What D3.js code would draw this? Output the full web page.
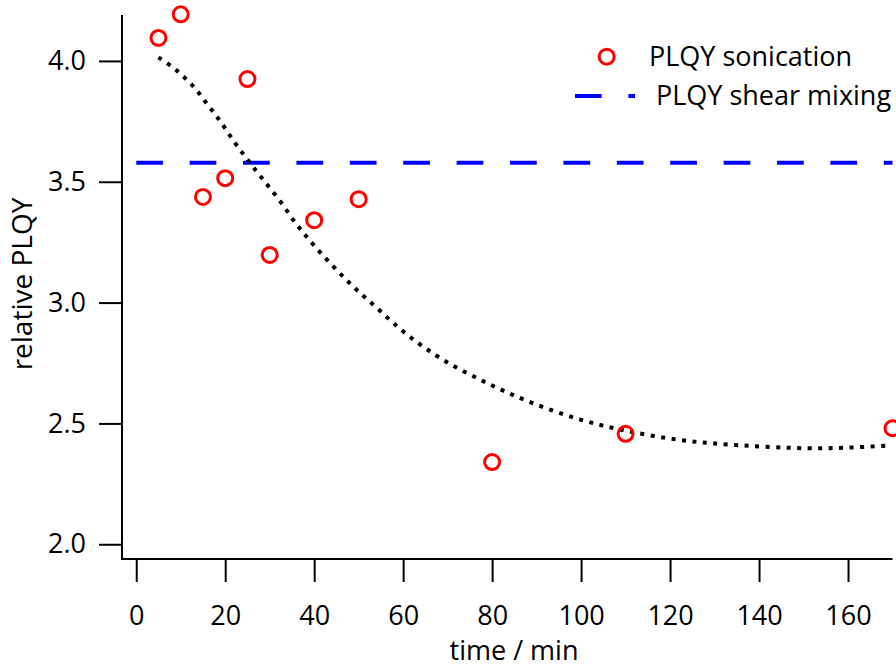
<!DOCTYPE html>
<html>
<head>
<meta charset="utf-8">
<script src="https://cdn.jsdelivr.net/npm/d3@7"></script>
<style>
  html, body { margin: 0; padding: 0; background: #fff; }
  svg { display: block; }
  text { font-family: "Open Sans", sans-serif; fill: #000; }
</style>
</head>
<body>
<svg id="chart" width="896" height="667"></svg>
<script>
// Measured PLQY after sonication (time in minutes)
const sonicationTime = [5, 10, 15, 20, 25, 30, 40, 50, 80, 110, 170];
const sonicationPLQY = [4.095, 4.193, 3.437, 3.515, 3.925, 3.197, 3.341, 3.428, 2.34, 2.457, 2.48];

// Reference level obtained with shear mixing
const shearPLQY = 3.579;
const shearSpan = [0, 170];

// Trend curve through the sonication data
const trendTime = [5, 9, 13, 16, 19, 22, 25, 28, 32, 36, 40, 47, 54, 61, 69, 79, 89, 100, 110, 122, 133, 151, 160, 169];
const trendPLQY = [4.015, 3.962, 3.891, 3.82, 3.748, 3.666, 3.592, 3.521, 3.428, 3.325, 3.236, 3.098, 2.979, 2.866, 2.763, 2.666, 2.585, 2.515, 2.470, 2.432, 2.413, 2.397, 2.400, 2.408];

const xTicks = [0, 20, 40, 60, 80, 100, 120, 140, 160];
const yTicks = [2.0, 2.5, 3.0, 3.5, 4.0];

const legendLabels = ["PLQY sonication", "PLQY shear mixing"];

const FONT = 27;
const svg = d3.select("#chart");

const x = d3.scaleLinear().domain([-3.2, 170]).range([122, 892.5]);
const y = d3.scaleLinear().domain([1.939, 4.19]).range([559, 15]);

// Axes
const xAxis = d3.axisBottom(x).tickValues(xTicks).tickSize(23).tickPadding(24)
  .tickFormat(d3.format("d"));
const yAxis = d3.axisLeft(y).tickValues(yTicks).tickSize(23).tickPadding(13)
  .tickFormat(d3.format(".1f"));

const gx = svg.append("g").attr("transform", "translate(0,559)").call(xAxis);
const gy = svg.append("g").attr("transform", "translate(122,0)").call(yAxis);
[gx, gy].forEach(g => {
  g.select(".domain").remove();
  g.selectAll(".tick line").attr("stroke", "#000").attr("stroke-width", 2);
  g.selectAll(".tick text").attr("font-size", FONT).attr("font-family", "Open Sans").attr("fill", "#000");
});

// Axis lines
svg.append("line").attr("x1", 122).attr("x2", 122).attr("y1", y.range()[1]).attr("y2", 560)
  .attr("stroke", "#000").attr("stroke-width", 2);
svg.append("line").attr("x1", 121).attr("x2", x.range()[1]).attr("y1", 559).attr("y2", 559)
  .attr("stroke", "#000").attr("stroke-width", 2);

// Axis titles
svg.append("text").attr("x", 514).attr("y", 660).attr("text-anchor", "middle")
  .attr("font-size", FONT).text("time / min");
svg.append("text").attr("transform", "translate(32,284) rotate(-90)").attr("text-anchor", "middle")
  .attr("font-size", FONT + 1).text("relative PLQY");

// Shear mixing reference line
svg.append("line")
  .attr("x1", x(shearSpan[0])).attr("x2", x(shearSpan[1]))
  .attr("y1", y(shearPLQY)).attr("y2", y(shearPLQY))
  .attr("stroke", "#0000ff").attr("stroke-width", 4)
  .attr("stroke-dasharray", "26.7 26.7");

// Trend curve
const trend = d3.line().x((d, i) => x(trendTime[i])).y(d => y(d)).curve(d3.curveCatmullRom.alpha(0.5));
svg.append("path").datum(trendPLQY).attr("d", trend)
  .attr("fill", "none").attr("stroke", "#000").attr("stroke-width", 4)
  .attr("stroke-dasharray", "4 6.5");

// Sonication points
svg.append("g").selectAll("circle").data(sonicationPLQY).join("circle")
  .attr("cx", (d, i) => x(sonicationTime[i])).attr("cy", d => y(d)).attr("r", 7.5)
  .attr("fill", "none").attr("stroke", "#ff0000").attr("stroke-width", 3);

// Legend
const lg = svg.append("g");
lg.append("circle").attr("cx", 606.7).attr("cy", 56.7).attr("r", 7.5)
  .attr("fill", "none").attr("stroke", "#ff0000").attr("stroke-width", 3);
lg.append("text").attr("x", 649).attr("y", 66).attr("font-size", FONT).text(legendLabels[0]);
lg.append("line").attr("x1", 575).attr("x2", 635).attr("y1", 96).attr("y2", 96)
  .attr("stroke", "#0000ff").attr("stroke-width", 4).attr("stroke-dasharray", "26.7 26.7");
lg.append("text").attr("x", 656).attr("y", 105).attr("font-size", FONT).text(legendLabels[1]);
</script>
</body>
</html>
